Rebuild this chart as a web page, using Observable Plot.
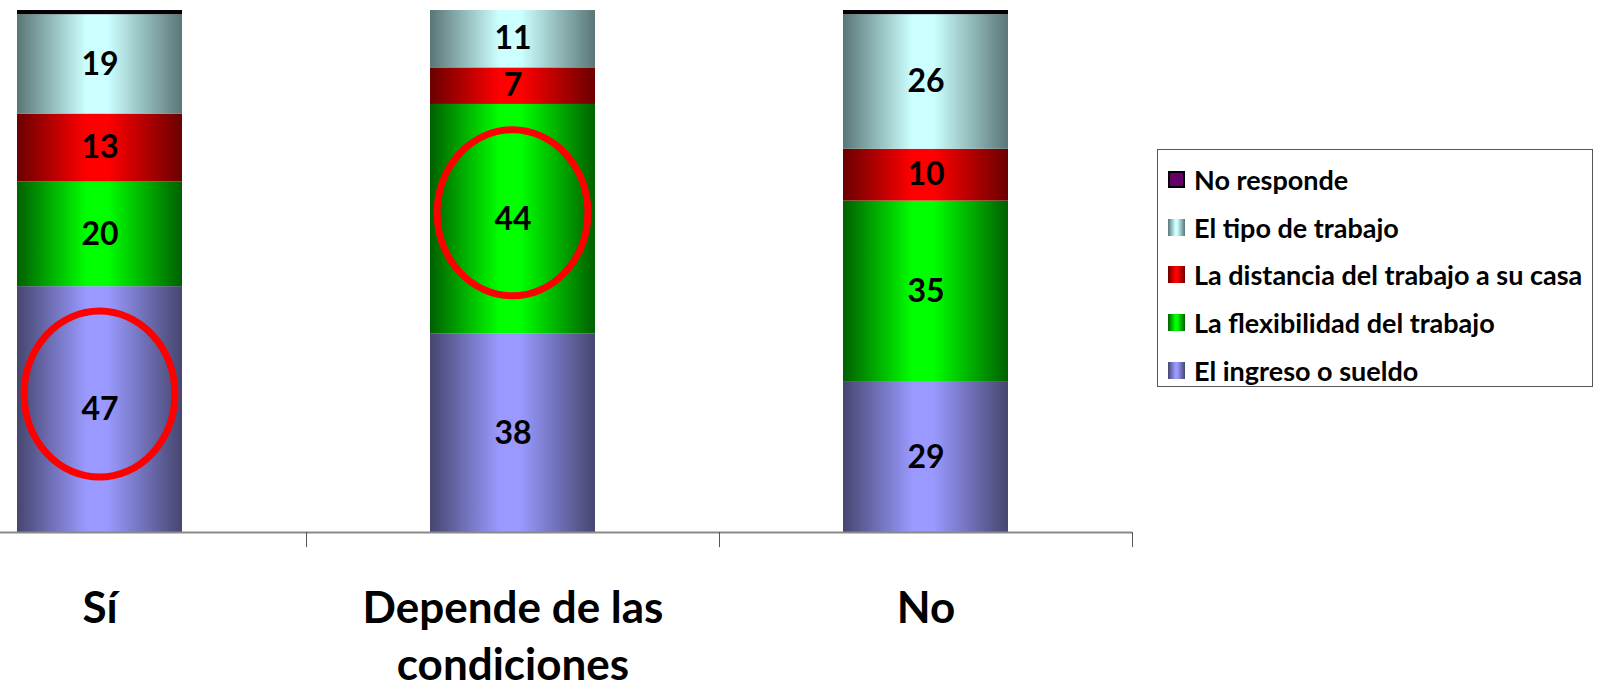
<!DOCTYPE html>
<html>
<head>
<meta charset="utf-8">
<script src="https://cdn.jsdelivr.net/npm/d3@7"></script>
<script src="https://cdn.jsdelivr.net/npm/@observablehq/plot@0.6"></script>
<style>
  html, body { margin: 0; padding: 0; background: #fff; }
  #wrap { position: relative; width: 1604px; height: 694px; overflow: hidden; font-family: Lato, "Open Sans", sans-serif; }
  #chart { position: absolute; left: 0; top: 0; }
  #legend { position: absolute; left: 1157px; top: 149px; width: 436px; height: 238px; border: 1.5px solid #555; box-sizing: border-box; background: #fff; }
  .item { position: absolute; left: 10px; height: 30px; display: flex; align-items: center; font-weight: 700; font-size: 27px; color: #000; white-space: nowrap; }
  .sw { width: 17px; height: 17px; margin-right: 9px; box-sizing: border-box; flex: none; }
</style>
</head>
<body>
<div id="wrap">
  <div id="chart"></div>
  <div id="legend"></div>
</div>
<script>
// ---- data ----
const categories = ["Sí", "Depende de las condiciones", "No"];
const categoryLabels = ["Sí", "Depende de las\ncondiciones", "No"];
const series = ["El ingreso o sueldo", "La flexibilidad del trabajo", "La distancia del trabajo a su casa", "El tipo de trabajo", "No responde"];
const ingreso = [47, 38, 29];
const flexibilidad = [20, 44, 35];
const distancia = [13, 7, 10];
const tipo = [19, 11, 26];
const noResponde = [0.8, 0, 0.8];
const legendOrder = ["No responde", "El tipo de trabajo", "La distancia del trabajo a su casa", "La flexibilidad del trabajo", "El ingreso o sueldo"];
const highlights = [
  {cat: "Sí", series: "El ingreso o sueldo"},
  {cat: "Depende de las condiciones", series: "La flexibilidad del trabajo"}
];

// ---- styles ----
const palette = {
  "El ingreso o sueldo": ["#46466f", "#9999ff"],
  "La flexibilidad del trabajo": ["#006000", "#00ff00"],
  "La distancia del trabajo a su casa": ["#6a0000", "#ff0000"],
  "El tipo de trabajo": ["#5a7676", "#ccffff"],
  "No responde": ["#000000", "#0a000a"]
};
const noRespondeSwatch = "#660066";
const ellipseShift = [-15, -6];

const valuesBySeries = [ingreso, flexibilidad, distancia, tipo, noResponde];
const data = [];
categories.forEach((c, i) => {
  series.forEach((s, j) => data.push({cat: c, series: s, value: valuesBySeries[j][i]}));
});

const gradId = s => "g" + series.indexOf(s);
const xRange = [-107, 1132];
const step = (xRange[1] - xRange[0]) / categories.length;

function ellipses(index, scales) {
  const g = document.createElementNS("http://www.w3.org/2000/svg", "g");
  highlights.forEach((h, k) => {
    const rows = data.filter(d => d.cat === h.cat);
    const total = d3.sum(rows, d => d.value);
    let before = 0;
    for (const r of rows) { if (r.series === h.series) break; before += r.value; }
    const v = rows.find(r => r.series === h.series).value;
    const mid = (before + v / 2) / total;
    const cx = scales.x(h.cat) + scales.x.bandwidth() / 2;
    const cy = scales.y(mid) + ellipseShift[k];
    const e = document.createElementNS("http://www.w3.org/2000/svg", "ellipse");
    e.setAttribute("cx", cx);
    e.setAttribute("cy", cy);
    e.setAttribute("rx", scales.x.bandwidth() * 0.457);
    e.setAttribute("ry", 83);
    e.setAttribute("fill", "none");
    e.setAttribute("stroke", "#ff0000");
    e.setAttribute("stroke-width", 7);
    g.appendChild(e);
  });
  return g;
}

const plot = Plot.plot({
  width: 1604,
  height: 694,
  marginTop: 10,
  marginBottom: 162,
  marginLeft: 0,
  marginRight: 1604 - 1132,
  style: {fontFamily: "Lato, 'Open Sans', sans-serif", background: "#fff", overflow: "visible"},
  x: {domain: categories, range: xRange, paddingInner: 0.6, paddingOuter: 0.3, axis: null},
  y: {domain: [0, 1], axis: null},
  color: {domain: series, range: series.map(s => `url(#${gradId(s)})`)},
  marks: [
    Plot.barY(data.filter(d => d.value > 0), {
      x: "cat", y: "value", fill: "series", offset: "normalize"
    }),
    Plot.ruleY([0], {stroke: "#8a8a8a", strokeWidth: 2}),
    Plot.ruleX(categories, {x: d => d, dx: step / 2, y1: 0, y2: -0.029, stroke: "#555", strokeWidth: 1}),
    Plot.text(data, Plot.stackY({
      x: "cat", y: "value", z: "series", offset: "normalize",
      text: d => (d.series === "No responde" || d.value === 0) ? "" : String(d.value),
      fontSize: 32, fontWeight: "bold", fill: "#000"
    })),
    Plot.text(categories, {
      x: d => d, text: (d, i) => categoryLabels[i],
      frameAnchor: "bottom", lineAnchor: "top", dy: 50,
      fontSize: 44, fontWeight: "bold", fill: "#000", lineHeight: 1.29
    }),
    ellipses
  ]
});

// gradient definitions for the bar fills
const ns = "http://www.w3.org/2000/svg";
const defs = document.createElementNS(ns, "defs");
series.forEach(s => {
  const [dark, light] = palette[s];
  const lg = document.createElementNS(ns, "linearGradient");
  lg.setAttribute("id", gradId(s));
  lg.setAttribute("x1", "0"); lg.setAttribute("x2", "1");
  lg.setAttribute("y1", "0"); lg.setAttribute("y2", "0");
  [[0, dark], [0.42, light], [0.55, light], [1, dark]].forEach(([o, c]) => {
    const st = document.createElementNS(ns, "stop");
    st.setAttribute("offset", o);
    st.setAttribute("stop-color", c);
    lg.appendChild(st);
  });
  defs.appendChild(lg);
});
plot.insertBefore(defs, plot.firstChild);
document.getElementById("chart").appendChild(plot);

// legend
const legend = document.getElementById("legend");
const rowTops = [14, 62, 109, 157, 205];
legendOrder.forEach((s, i) => {
  const [dark, light] = palette[s];
  const item = document.createElement("div");
  item.className = "item";
  item.style.top = rowTops[i] + "px";
  const sw = document.createElement("div");
  sw.className = "sw";
  if (s === "No responde") {
    sw.style.background = noRespondeSwatch;
    sw.style.border = "2px solid #000";
  } else {
    sw.style.background = `linear-gradient(to right, ${dark} 0%, ${light} 42%, ${light} 55%, ${dark} 100%)`;
  }
  const label = document.createElement("span");
  label.textContent = s;
  item.appendChild(sw);
  item.appendChild(label);
  legend.appendChild(item);
});
</script>
</body>
</html>
